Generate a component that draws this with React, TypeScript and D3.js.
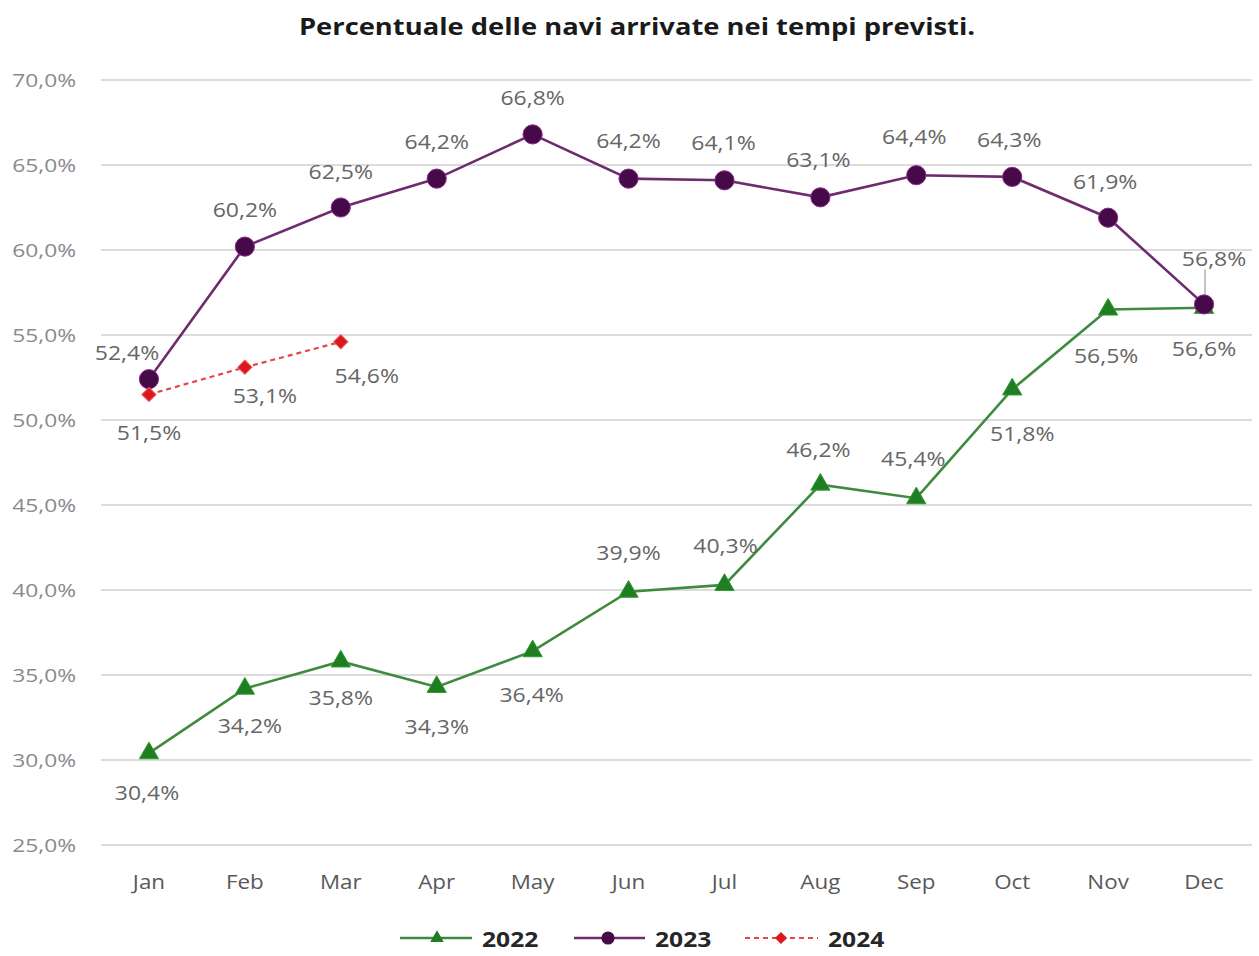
import React from "react";
import * as d3 from "d3";

// Months on the category axis
const months = ["Jan", "Feb", "Mar", "Apr", "May", "Jun", "Jul", "Aug", "Sep", "Oct", "Nov", "Dec"];

// Share of ships arriving on schedule, per year (percent)
const values2022 = [30.4, 34.2, 35.8, 34.3, 36.4, 39.9, 40.3, 46.2, 45.4, 51.8, 56.5, 56.6];
const values2023 = [52.4, 60.2, 62.5, 64.2, 66.8, 64.2, 64.1, 63.1, 64.4, 64.3, 61.9, 56.8];
const values2024 = [51.5, 53.1, 54.6];

// Y axis ticks
const yTicks = [25, 30, 35, 40, 45, 50, 55, 60, 65, 70];

// Where each data label sits relative to its point: [dx, dy]
const labelPos2022: [number, number][] = [
  [-2, 39], [5, 37], [0, 36], [0, 39], [-1, 43], [0, -40],
  [1, -40], [-2, -35], [-3, -40], [10, 44], [-2, 46], [0, 40],
];
const labelPos2023: [number, number][] = [
  [-22, -27], [0, -37], [0, -36], [0, -37], [0, -37], [0, -38],
  [-1, -38], [-2, -38], [-2, -39], [-3, -38], [-3, -37], [10, -46],
];
const labelPos2024: [number, number][] = [[0, 38], [20, 28], [26, 33]];

const W = 1259;
const H = 956;

const fmt = (v: number) => v.toFixed(1).replace(".", ",") + "%";

type STProps = {
  x: number;
  y: number;
  sx: number;
  anchor?: "start" | "middle" | "end";
  size: number;
  weight?: number;
  fill: string;
  children: React.ReactNode;
};

// Text with a slight horizontal stretch, for the wide Calibri-like look
function SText({ x, y, sx, anchor = "middle", size, weight = 400, fill, children }: STProps) {
  return (
    <text
      transform={`translate(${x},${y}) scale(${sx},1)`}
      textAnchor={anchor}
      dominantBaseline="central"
      fontSize={size}
      fontWeight={weight}
      fill={fill}
    >
      {children}
    </text>
  );
}

export default function App() {
  const x = d3.scalePoint<string>().domain(months).range([101, 1252]).padding(0.5);
  const y = d3.scaleLinear().domain([25, 70]).range([845, 80]);

  const line = d3
    .line<number>()
    .x((_, i) => x(months[i]) as number)
    .y((d) => y(d));

  const tri = d3.symbol().type(d3.symbolTriangle).size(160)() as string;
  const circ = d3.symbol().type(d3.symbolCircle).size(290)() as string;
  const diam = d3.symbol().type(d3.symbolSquare).size(100)() as string;

  const font = "'Open Sans', 'Noto Sans', sans-serif";
  const green = "#3e8a3e";
  const greenMark = "#1f7d22";
  const purple = "#6e2c6e";
  const purpleMark = "#470a48";
  const red = "#e64646";
  const redMark = "#d9191f";
  const labelColor = "#666666";

  const labels = (vals: number[], pos: [number, number][], key: string) =>
    vals.map((v, i) => (
      <SText
        key={key + i}
        x={(x(months[i]) as number) + pos[i][0]}
        y={y(v) + pos[i][1]}
        sx={1.15}
        size={20}
        fill={labelColor}
      >
        {fmt(v)}
      </SText>
    ));

  const decX = x("Dec") as number;

  return (
    <svg
      width={W}
      height={H}
      style={{ position: "absolute", left: 0, top: 0, background: "#fff" }}
      fontFamily={font}
    >
      <rect width={W} height={H} fill="#fff" />
      <SText x={637} y={26} sx={1.14} size={24} weight={700} fill="#1a1a1a">
        Percentuale delle navi arrivate nei tempi previsti.
      </SText>

      {/* gridlines and y tick labels */}
      {yTicks.map((t) => (
        <g key={t}>
          <line x1={101} x2={1252} y1={y(t)} y2={y(t)} stroke="#dcdcdc" strokeWidth={2} />
          <SText x={76} y={y(t)} sx={1.2} anchor="end" size={19} fill="#8a8a8a">
            {t.toFixed(1).replace(".", ",") + "%"}
          </SText>
        </g>
      ))}

      {/* month labels */}
      {months.map((m) => (
        <SText key={m} x={x(m) as number} y={881} sx={1.12} size={20} fill="#595959">
          {m}
        </SText>
      ))}

      {/* 2022 */}
      <path d={line(values2022) as string} fill="none" stroke={green} strokeWidth={2.6} />
      {values2022.map((v, i) => (
        <path
          key={"t" + i}
          d={tri}
          transform={`translate(${x(months[i])},${y(v)})`}
          fill={greenMark}
          stroke="#2e9a2e"
          strokeWidth={1}
        />
      ))}

      {/* 2023 */}
      <path d={line(values2023) as string} fill="none" stroke={purple} strokeWidth={2.6} />
      {values2023.map((v, i) => (
        <path
          key={"c" + i}
          d={circ}
          transform={`translate(${x(months[i])},${y(v)})`}
          fill={purpleMark}
          stroke="#8a2a8a"
          strokeWidth={1}
        />
      ))}

      {/* 2024 */}
      <path
        d={line(values2024) as string}
        fill="none"
        stroke={red}
        strokeWidth={2.2}
        strokeDasharray="5,4"
      />
      {values2024.map((v, i) => (
        <path
          key={"d" + i}
          d={diam}
          transform={`translate(${x(months[i])},${y(v)}) rotate(45)`}
          fill={redMark}
          stroke="#f05050"
          strokeWidth={1}
        />
      ))}

      {/* leader line for the December 2023 label */}
      <line
        x1={decX + 1}
        x2={decX + 1}
        y1={y(values2023[11]) - 35}
        y2={y(values2023[11]) - 10}
        stroke="#8c8c8c"
        strokeWidth={1}
      />

      {labels(values2022, labelPos2022, "l22")}
      {labels(values2023, labelPos2023, "l23")}
      {labels(values2024, labelPos2024, "l24")}

      {/* legend */}
      <line x1={400} x2={472} y1={938} y2={938} stroke={green} strokeWidth={2.6} />
      <path d={d3.symbol().type(d3.symbolTriangle).size(80)() as string} transform="translate(437,938)" fill={greenMark} />
      <SText x={482} y={939} sx={1.12} anchor="start" size={22} weight={700} fill="#262626">2022</SText>

      <line x1={574} x2={645} y1={938} y2={938} stroke={purple} strokeWidth={2.6} />
      <path d={d3.symbol().type(d3.symbolCircle).size(135)() as string} transform="translate(608,938)" fill={purpleMark} />
      <SText x={655} y={939} sx={1.12} anchor="start" size={22} weight={700} fill="#262626">2023</SText>

      <line x1={745} x2={818} y1={938} y2={938} stroke={red} strokeWidth={2.2} strokeDasharray="5,4" />
      <path d={d3.symbol().type(d3.symbolSquare).size(75)() as string} transform="translate(781,938) rotate(45)" fill={redMark} />
      <SText x={828} y={939} sx={1.12} anchor="start" size={22} weight={700} fill="#262626">2024</SText>
    </svg>
  );
}
